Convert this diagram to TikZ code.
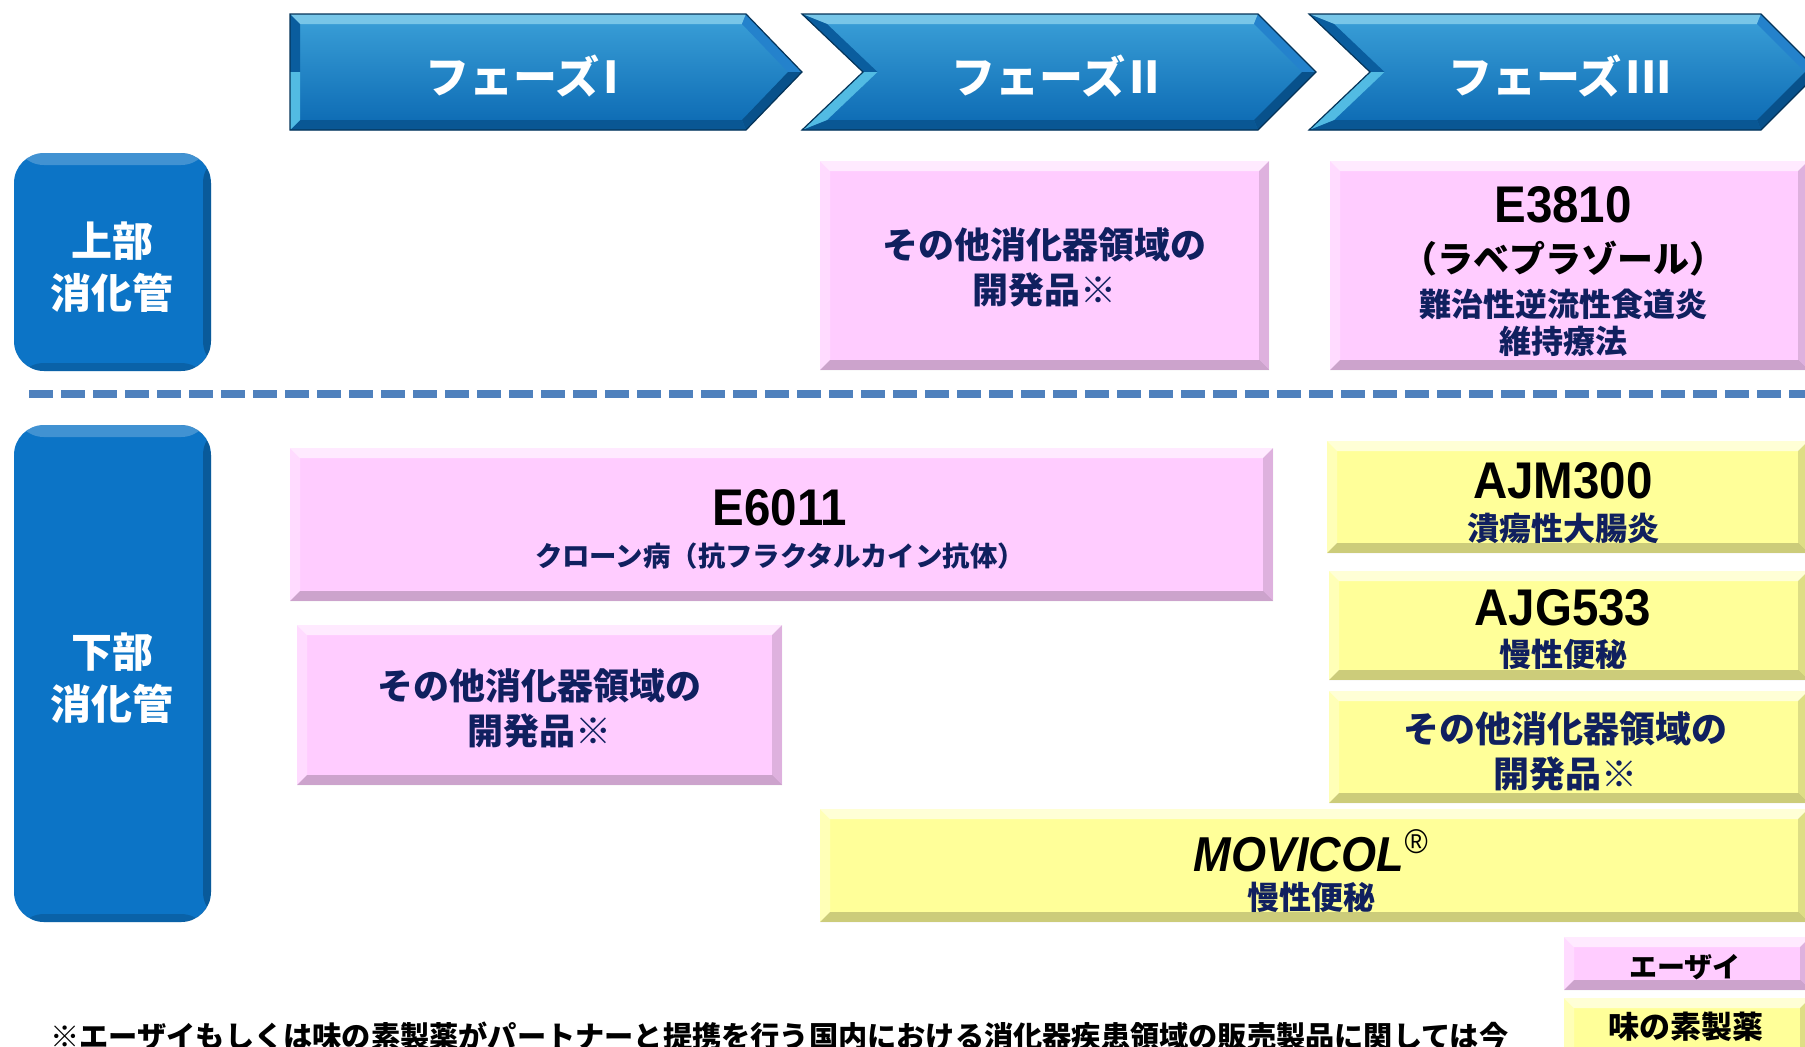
\documentclass[tikz,border=0pt]{standalone}
\usepackage{fontspec}
\newfontfamily\jp{Noto Sans CJK JP}
\newfontfamily\lat{Liberation Sans}[FakeStretch=0.92]
\usepackage{tikz}
\usetikzlibrary{fit}
\definecolor{navy}{HTML}{10205F}
\definecolor{pinkfill}{HTML}{FFCCFF}
\definecolor{yelfill}{HTML}{FFFF99}
\definecolor{phblue}{HTML}{0C74C6}
\definecolor{dashblue}{HTML}{4F81BD}

\begin{document}
\begin{tikzpicture}[x=0.5pt,y=-0.5pt,
    bevel/.style={inner sep=0pt,path picture={
      \path (path picture bounding box.north west) coordinate (bnw)
            (path picture bounding box.north east) coordinate (bne)
            (path picture bounding box.south west) coordinate (bsw)
            (path picture bounding box.south east) coordinate (bse);
      \fill[white,opacity=.6] (bnw) -- (bne) -- ([shift={(-5pt,-5pt)}]bne) -- ([shift={(5pt,-5pt)}]bnw) -- cycle;
      \fill[white,opacity=.3] (bnw) -- ([shift={(5pt,-5pt)}]bnw) -- ([shift={(5pt,5pt)}]bsw) -- (bsw) -- cycle;
      \fill[black,opacity=.13] (bne) -- (bse) -- ([shift={(-5pt,5pt)}]bse) -- ([shift={(-5pt,-5pt)}]bne) -- cycle;
      \fill[black,opacity=.2] (bsw) -- (bse) -- ([shift={(-5pt,5pt)}]bse) -- ([shift={(5pt,5pt)}]bsw) -- cycle;}},
    pbox/.style={bevel,fill=pinkfill},
    ybox/.style={bevel,fill=yelfill},
    gibox/.style={inner sep=0pt,rounded corners=15pt,fill=phblue,path picture={
      \fill[white,opacity=.22] (path picture bounding box.north west) rectangle ([yshift=-6pt]path picture bounding box.north east);
      \fill[black,opacity=.22] ([xshift=-4pt]path picture bounding box.north east) rectangle (path picture bounding box.south east);
      \fill[black,opacity=.15] ([yshift=4pt]path picture bounding box.south west) rectangle (path picture bounding box.south east);}},
    gilbl/.style={inner sep=0pt,text=white,align=center,font=\jp\bfseries\fontsize{20.5}{26}\selectfont},
    phlbl/.style={inner sep=0pt,text=white,font=\jp\bfseries\fontsize{22}{26}\selectfont},
    devtxt/.style={inner sep=0pt,text=navy,align=center,font=\jp\bfseries\fontsize{18}{22.5}\selectfont},
    subtxt/.style={inner sep=0pt,text=navy,align=center,font=\jp\bfseries\fontsize{16}{18.5}\selectfont},
    code/.style={inner sep=0pt,text=black,font=\lat\bfseries\fontsize{25.8}{30}\selectfont},
    lgd/.style={inner sep=0pt,text=black,font=\jp\bfseries\fontsize{14}{16}\selectfont}]
  \useasboundingbox (0,0) rectangle (1805,1046);
  \clip (0,0) rectangle (1805,1046);
  \foreach \l/\n/\s/\t/\a/\b/\cx/\num [count=\i] in
      {290/0/746/802/10/10/522/I, 802/61/1258/1316/25/14.5/1056/II, 1309/61/1761/1819/25/14.5/1560/III}{
    \shade[top color=phblue!85!cyan!80!white,bottom color=phblue!90!black]
      (\l,14) -- (\s,14) -- (\t,72) -- (\s,130) -- (\l,130) -- (\l+\n,72) -- cycle;
    \fill[phblue!75!cyan!55!white] (\l,14) -- (\s,14) -- (\s-4,24) -- (\l+\a,24) -- cycle;
    \fill[phblue!90!white] (\s,14) -- (\t,72) -- (\t-14,72) -- (\s-4,24) -- cycle;
    \fill[phblue!70!black] (\t,72) -- (\s,130) -- (\s-4,120) -- (\t-14,72) -- cycle;
    \fill[phblue!75!black] (\s,130) -- (\l,130) -- (\l+\a,120) -- (\s-4,120) -- cycle;
    \fill[phblue!80!black] (\l,14) -- (\l+\n,72) -- (\l+\n+\b,72) -- (\l+\a,24) -- cycle;
    \fill[phblue!70!cyan!70!white] (\l+\n,72) -- (\l,130) -- (\l+\a,120) -- (\l+\n+\b,72) -- cycle;
    \draw[phblue!45!black,line width=.6pt] (\l,14) -- (\s,14) -- (\t,72) -- (\s,130) -- (\l,130) -- (\l+\n,72) -- cycle;
    \node[phlbl] (ph\i) at (\cx,76) {フェーズ\hspace{2pt}\num};
  }
  \node[gibox,fit={(14,153) (211,371)}] (upper) {};
  \node[gilbl] (upperlbl) at (112,267) {上部\\消化管};
  \node[gibox,fit={(14,425) (211,922)}] (lower) {};
  \node[gilbl] (lowerlbl) at (112,678) {下部\\消化管};
  \coordinate (dl) at (29,394);
  \coordinate (dr) at (1810,394);
  \draw[dashblue,line width=4pt,dash pattern=on 12pt off 4pt] (dl) -- (dr);
  \node[pbox,fit={(820,161) (1269,370)}] (dev2u) {};
  \node[devtxt] (dev2utxt) at (1044,267.5) {その他消化器領域の\\開発品※};
  \node[pbox,fit={(1330,161) (1808,370)}] (e3810) {};
  \node[code] (e3810a) at (1563,205) {E3810};
  \node[inner sep=0pt,font=\jp\bfseries\fontsize{18}{20}\selectfont] (e3810b) at (1563,259) {（ラベプラゾール）};
  \node[subtxt] (e3810c) at (1563,322.5) {難治性逆流性食道炎\\維持療法};
  \node[pbox,fit={(290,448) (1273,601)}] (e6011) {};
  \node[code] (e6011a) at (780,508) {E6011};
  \node[subtxt,font=\jp\bfseries\fontsize{13.7}{16}\selectfont] (e6011b) at (780,556) {クローン病（抗フラクタルカイン抗体）};
  \node[pbox,fit={(297,625) (782,785)}] (dev1l) {};
  \node[devtxt] (dev1ltxt) at (539,708.5) {その他消化器領域の\\開発品※};
  \node[ybox,fit={(1327,441) (1808,553)}] (ajm) {};
  \node[code] (ajma) at (1563,481) {AJM300};
  \node[subtxt] (ajmb) at (1563,528) {潰瘍性大腸炎};
  \node[ybox,fit={(1329,571) (1808,680)}] (ajg) {};
  \node[code] (ajga) at (1563,608) {AJG533};
  \node[subtxt] (ajgb) at (1563,654) {慢性便秘};
  \node[ybox,fit={(1329,691) (1808,803)}] (dev3l) {};
  \node[devtxt] (dev3ltxt) at (1565,751) {その他消化器領域の\\開発品※};
  \node[ybox,fit={(820,809) (1808,922)}] (movicol) {};
  \node[code,font=\lat\bfseries\itshape\fontsize{24.5}{28}\selectfont] (movicola) at (1311,851) {MOVICOL\textsuperscript{\mdseries ®}};
  \node[subtxt] (movicolb) at (1311,897) {慢性便秘};
  \node[pbox,fit={(1564,937) (1810,990)}] (eisai) {};
  \node[lgd] (eisaitxt) at (1685,967) {エーザイ};
  \node[ybox,fit={(1564,998) (1810,1060)}] (ajino) {};
  \node[lgd,font=\jp\bfseries\fontsize{15.5}{18}\selectfont] (ajinotxt) at (1686,1027) {味の素製薬};
  \node[inner sep=0pt,anchor=west,font=\jp\bfseries\fontsize{14.6}{17}\selectfont] (note) at (50,1036)
    {※エーザイもしくは味の素製薬がパートナーと提携を行う国内における消化器疾患領域の販売製品に関しては今};
\end{tikzpicture}
\end{document}
